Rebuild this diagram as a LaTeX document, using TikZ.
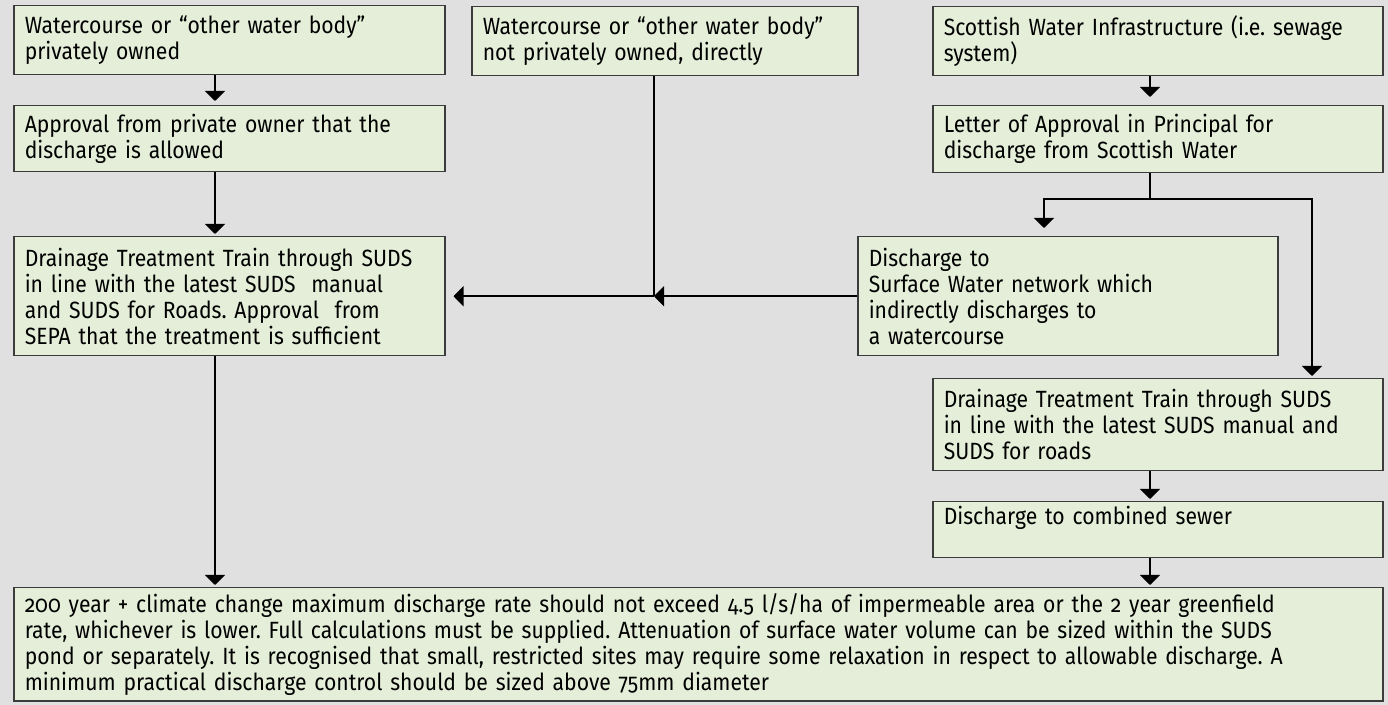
\documentclass[tikz,border=0pt]{standalone}
\usepackage{fontspec}
\setmainfont{Fira Sans}[Numbers=OldStyle, FakeStretch=0.9]
\usepackage{tikz}
\usetikzlibrary{arrows.meta, positioning, calc}

\definecolor{bggray}{HTML}{E0E0E0}
\definecolor{boxfill}{HTML}{E4EED8}
\definecolor{boxline}{HTML}{3C3C3C}

\begin{document}
\frenchspacing
\begin{tikzpicture}[
        x=0.5pt, y=-0.5pt,
        box/.style={rectangle, draw=boxline, fill=boxfill, line width=0.75pt, anchor=north west, align=left, inner xsep=5.5pt, inner ysep=0pt, font=\fontsize{11.75}{13}\selectfont},
        arrow/.style={-{Triangle[width=10pt, length=5pt]}, line width=1pt, black, shorten >=1pt},
        link/.style={line width=1pt, black}
    ]
        \useasboundingbox (0,0) rectangle (1388,705);
        \fill[bggray] (0,0) rectangle (1388,705);

        % columns of the connectors
        \coordinate (xl) at (215,0);
        \coordinate (xm) at (654,0);
        \coordinate (xr) at (1150,0);
        \coordinate (xd) at (1044,0);
        \coordinate (xg) at (1312,0);
        \coordinate (fork) at (1150,199);

        % left column
        \node[box, text width=204.5pt, minimum height=34.5pt] (own) at (13,5) {Watercourse or “other water body”\\privately owned};
        \node[box, text width=204.5pt, minimum height=33pt] (appr) at (13,105) {Approval from private owner that the\\discharge is allowed};
        \node[box, text width=204.5pt, minimum height=59.5pt] (treat) at (13,236) {Drainage Treatment Train through SUDS\\in line with the latest SUDS\ \ manual\\and SUDS for Roads. Approval\ \ from\\SEPA that the treatment is sufficient};

        % middle column
        \node[box, text width=182pt, minimum height=34.5pt] (direct) at (471,6) {Watercourse or “other water body”\\not privately owned, directly};

        % right column
        \node[box, text width=214pt, minimum height=34.5pt] (scot) at (932,6) {Scottish Water Infrastructure (i.e. sewage\\system)};
        \node[box, text width=214pt, minimum height=33.5pt] (letter) at (932,105) {Letter of Approval in Principal for\\discharge from Scottish Water};
        \node[box, text width=199pt, minimum height=59.5pt] (surf) at (857,236) {Discharge to\\Surface Water network which\\indirectly discharges to\\a watercourse};
        \node[box, text width=214pt, minimum height=46pt] (train) at (932,378) {Drainage Treatment Train through SUDS\\in line with the latest SUDS manual and\\SUDS for roads};
        \node[box, text width=214pt, minimum height=28pt, text depth=14pt] (comb) at (932,501) {Discharge to combined sewer};

        % bottom
        \node[box, text width=673.5pt, minimum height=56.5pt] (limit) at (13,587) {200 year + climate change maximum discharge rate should not exceed 4.5 l/s/ha of impermeable area or the 2 year greenfield\\rate, whichever is lower. Full calculations must be supplied. Attenuation of surface water volume can be sized within the SUDS\\pond or separately. It is recognised that small, restricted sites may require some relaxation in respect to allowable discharge. A\\minimum practical discharge control should be sized above 75mm diameter};

        \coordinate (joint) at (xm |- surf.west);

        \draw[arrow, shorten >=2pt] (own.south -| xl) -- (appr.north -| xl);
        \draw[arrow] (appr.south -| xl) -- (treat.north -| xl);
        \draw[arrow] (treat.south -| xl) -- (limit.north -| xl);

        \draw[link] (direct.south -| xm) -- (joint);
        \draw[arrow, shorten >=0pt] (surf.west) -- (joint);
        \draw[arrow, shorten >=4pt] (joint) -- (treat.east |- joint);

        \draw[arrow, shorten >=4pt] (scot.south -| xr) -- (letter.north -| xr);
        \draw[link] (letter.south -| xr) -- (fork);
        \draw[arrow, shorten >=4pt] (fork) -| (surf.north -| xd);
        \draw[arrow] (fork) -| (train.north -| xg);
        \draw[arrow] (train.south -| xr) -- (comb.north -| xr);
        \draw[arrow] (comb.south -| xr) -- (limit.north -| xr);
    \end{tikzpicture}
\end{document}
